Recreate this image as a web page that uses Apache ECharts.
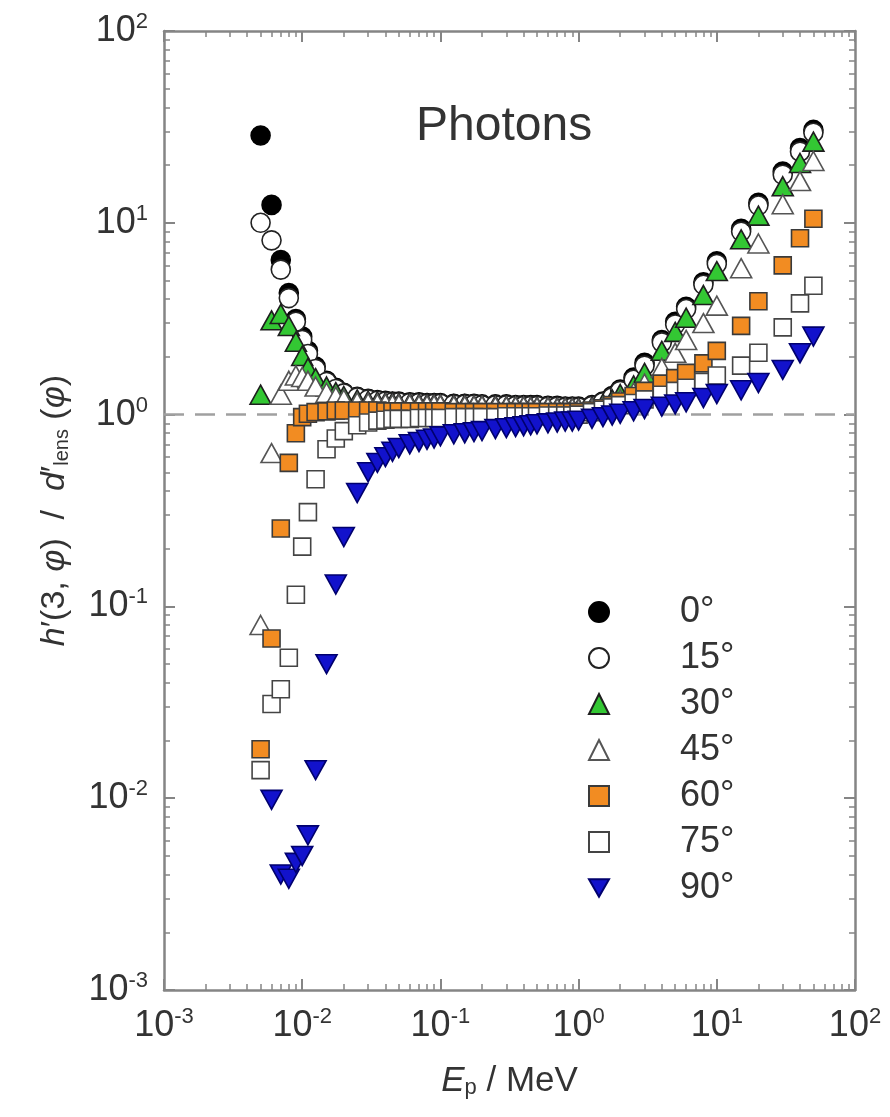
<!DOCTYPE html>
<html><head><meta charset="utf-8">
<script src="https://cdn.jsdelivr.net/npm/echarts@6/dist/echarts.min.js"></script>
<style>html,body{margin:0;padding:0;background:#fff}#c{width:890px;height:1117px}</style>
</head><body><div id="c"></div>
<script>
// ---- data ----
const energyMeV = [
  0.005,0.006,0.007,0.008,0.009,0.010,0.011,0.0125,0.015,0.0175,
  0.020,0.025,0.030,0.035,0.040,0.045,0.050,0.060,0.070,0.080,
  0.090,0.100,0.125,0.150,0.175,0.200,0.250,0.300,0.350,0.400,
  0.450,0.500,0.600,0.700,0.800,0.900,1.00,1.25,1.50,1.75,
  2.0,2.5,3.0,4.0,5.0,6.0,8.0,10,15,20,
  30,40,50];
const h0 = [
  28.5,12.4,6.4,4.3,3.15,2.55,2.15,1.78,1.5,1.38,
  1.3,1.24,1.21,1.19,1.18,1.17,1.17,1.16,1.16,1.15,
  1.15,1.15,1.14,1.14,1.14,1.13,1.13,1.13,1.12,1.12,
  1.12,1.12,1.11,1.11,1.10,1.10,1.10,1.12,1.17,1.25,
  1.35,1.56,1.86,2.45,3.05,3.65,4.9,6.3,9.3,12.7,
  18.5,24.5,30.5];
const h15 = [
  10.0,8.1,5.7,4.05,3.05,2.45,2.07,1.73,1.48,1.36,
  1.29,1.23,1.2,1.18,1.17,1.16,1.16,1.15,1.15,1.14,
  1.14,1.14,1.13,1.13,1.13,1.12,1.12,1.12,1.11,1.11,
  1.11,1.11,1.10,1.10,1.09,1.09,1.09,1.11,1.16,1.23,
  1.33,1.52,1.8,2.38,2.95,3.55,4.75,6.1,9.0,12.3,
  17.8,23.5,29.5];
const h30 = [
  1.27,3.1,3.35,2.9,2.4,2.02,1.75,1.55,1.4,1.31,
  1.25,1.2,1.18,1.17,1.16,1.16,1.15,1.15,1.14,1.14,
  1.14,1.13,1.13,1.13,1.12,1.12,1.12,1.11,1.11,1.11,
  1.10,1.10,1.10,1.09,1.09,1.09,1.08,1.10,1.14,1.2,
  1.28,1.42,1.65,2.15,2.7,3.2,4.2,5.6,8.2,10.9,
  15.5,20.5,26.5];
const h45 = [
  0.08,0.63,1.27,1.5,1.6,1.57,1.5,1.4,1.3,1.24,
  1.2,1.16,1.15,1.14,1.14,1.13,1.13,1.13,1.12,1.12,
  1.12,1.12,1.11,1.11,1.11,1.11,1.10,1.10,1.10,1.10,
  1.09,1.09,1.09,1.08,1.08,1.08,1.07,1.08,1.1,1.14,
  1.2,1.3,1.45,1.75,2.1,2.45,3.0,3.7,5.8,7.8,
  12.5,16.5,21];
const h60 = [
  0.018,0.068,0.255,0.56,0.8,0.97,1.01,1.03,1.04,1.05,
  1.05,1.05,1.05,1.05,1.04,1.04,1.04,1.04,1.04,1.04,
  1.04,1.04,1.03,1.03,1.03,1.03,1.03,1.03,1.03,1.03,
  1.03,1.03,1.03,1.03,1.03,1.03,1.03,1.05,1.08,1.12,
  1.17,1.25,1.33,1.45,1.55,1.65,1.85,2.15,2.9,3.9,
  6.0,8.3,10.5];
const h75 = [
  0.014,0.031,0.037,0.054,0.115,0.205,0.31,0.46,0.66,0.75,
  0.82,0.88,0.91,0.93,0.94,0.95,0.95,0.95,0.96,0.96,
  0.96,0.96,0.97,0.97,0.97,0.97,0.97,0.98,0.98,0.98,
  0.98,0.98,0.99,0.99,0.99,0.99,1.0,1.03,1.06,1.09,
  1.12,1.15,1.2,1.27,1.33,1.38,1.48,1.6,1.8,2.1,
  2.85,3.8,4.7];
const h90 = [
  null,0.0098,0.0040,0.0038,0.0046,0.0050,0.0064,0.014,0.050,0.13,
  0.23,0.39,0.50,0.56,0.60,0.64,0.67,0.70,0.72,0.74,
  0.75,0.77,0.79,0.80,0.81,0.82,0.84,0.85,0.86,0.87,
  0.88,0.89,0.90,0.91,0.92,0.92,0.93,0.95,0.97,0.99,
  1.01,1.04,1.07,1.10,1.13,1.16,1.22,1.28,1.34,1.46,
  1.71,2.09,2.55];
const seriesNames = ['0°','15°','30°','45°','60°','75°','90°'];
const seriesValues = [h0,h15,h30,h45,h60,h75,h90];
const xTickValues = [0.001,0.01,0.1,1,10,100];
const yTickValues = [0.001,0.01,0.1,1,10,100];
const refLineValue = 1;

// ---- styles ----
const FONT = '"Liberation Sans", Arial, Helvetica, sans-serif';
const TXT = '#333';
const AX = '#858585';
const DOWN_TRIANGLE = 'path://M0,0L22,0L11,19Z';
const styles = [
  {symbol:'circle', size:19, fill:'#000000', border:'#000000'},
  {symbol:'circle', size:19, fill:'#ffffff', border:'#222222'},
  {symbol:'triangle', size:[21,19], fill:'#33c733', border:'#1e1e1e'},
  {symbol:'triangle', size:[21,19], fill:'#ffffff', border:'#555555'},
  {symbol:'rect', size:17, fill:'#f28c22', border:'#3a3a3a'},
  {symbol:'rect', size:17, fill:'#ffffff', border:'#444444'},
  {symbol:DOWN_TRIANGLE, size:[21,19], fill:'#1212cc', border:'#00006e'}
];

const minorX = [], minorY = [];
for (let e = -3; e < 2; e++) for (let m = 2; m < 10; m++) {
  minorX.push(+(m * Math.pow(10, e)).toPrecision(3));
  minorY.push(+(m * Math.pow(10, e)).toPrecision(3));
}

const gridRect = {left:164, top:31, width:691, height:959};
const lineStyle = {color:AX, width:2.5};

const supRich = {
  b:{fontSize:36, fontFamily:FONT, color:TXT, lineHeight:40},
  s:{fontSize:22, fontFamily:FONT, color:TXT, verticalAlign:'top', lineHeight:22}
};
function expLabel(v){
  const e = Math.round(Math.log10(v));
  return '{b|10}{s|' + (e < 0 ? '-' + (-e) : e) + '}';
}

function logAxis(extra){
  return Object.assign({
    type:'log', logBase:10, min:xTickValues[0], max:xTickValues[xTickValues.length-1],
    splitLine:{show:false}, minorTick:{show:false}, minorSplitLine:{show:false},
    axisLine:{show:true, lineStyle:lineStyle},
    axisTick:{show:true, inside:true, length:11, lineStyle:{color:AX, width:2}},
    axisLabel:{show:false}
  }, extra);
}

const xAxis = [
  logAxis({gridIndex:0, position:'bottom',
    axisLabel:{show:true, formatter:expLabel, rich:supRich, margin:16},
    name:'{i|E}{sub|p}{n| / MeV}', nameLocation:'middle', nameGap:74,
    nameTextStyle:{rich:{
      i:{fontSize:35, fontStyle:'italic', fontFamily:FONT, color:TXT},
      sub:{fontSize:22, fontFamily:FONT, color:TXT, verticalAlign:'bottom'},
      n:{fontSize:35, fontFamily:FONT, color:TXT}}}}),
  logAxis({gridIndex:1, position:'top'}),
  logAxis({gridIndex:2, position:'bottom', axisLine:{show:false},
    axisTick:{show:true, inside:true, length:6, customValues:minorX, lineStyle:{color:AX, width:1.5}}}),
  logAxis({gridIndex:3, position:'top', axisLine:{show:false},
    axisTick:{show:true, inside:true, length:6, customValues:minorX, lineStyle:{color:AX, width:1.5}}})
];
const yAxis = [
  logAxis({gridIndex:0, position:'left', min:yTickValues[0], max:yTickValues[yTickValues.length-1],
    axisLabel:{show:true, formatter:expLabel, rich:supRich, margin:16},
    name:'{i|h}{n|′(3, }{i|φ}{n|)  /  }{i|d}{n|′}{sub|lens}{n| (}{i|φ}{n|)}',
    nameLocation:'middle', nameRotate:90, nameGap:92,
    nameTextStyle:{rich:{
      i:{fontSize:34, fontStyle:'italic', fontFamily:FONT, color:TXT},
      sub:{fontSize:20, fontFamily:FONT, color:TXT, verticalAlign:'bottom'},
      n:{fontSize:34, fontFamily:FONT, color:TXT}}}}),
  logAxis({gridIndex:1, position:'right', min:yTickValues[0], max:yTickValues[yTickValues.length-1]}),
  logAxis({gridIndex:2, position:'left', min:yTickValues[0], max:yTickValues[yTickValues.length-1], axisLine:{show:false},
    axisTick:{show:true, inside:true, length:6, customValues:minorY, lineStyle:{color:AX, width:1.5}}}),
  logAxis({gridIndex:3, position:'right', min:yTickValues[0], max:yTickValues[yTickValues.length-1], axisLine:{show:false},
    axisTick:{show:true, inside:true, length:6, customValues:minorY, lineStyle:{color:AX, width:1.5}}})
];

const series = seriesNames.map((name, k) => {
  const st = styles[k];
  const s = {
    name: name, type:'scatter', xAxisIndex:0, yAxisIndex:0,
    symbol: st.symbol, symbolSize: st.size, symbolKeepAspect:false,
    itemStyle:{color:st.fill, borderColor:st.border, borderWidth:1.6, opacity:1},
    emphasis:{disabled:true},
    data: energyMeV.map((e, i) => [e, seriesValues[k][i]]).filter(p => p[1] != null),
    z: 3 + k
  };
  if (k === 0) {
    s.markLine = {silent:true, symbol:['none','none'], label:{show:false},
      lineStyle:{color:'#a0a0a0', width:2.5, type:[20,11]},
      data:[{yAxis:refLineValue}], z:1};
  }
  return s;
});

const chart = echarts.init(document.getElementById('c'), null, {renderer:'canvas'});
chart.setOption({
  animation:false,
  backgroundColor:'#ffffff',
  textStyle:{fontFamily:FONT},
  title:{text:'Photons', left:416, top:103, padding:0,
    textStyle:{fontSize:48, fontWeight:'normal', color:TXT, fontFamily:FONT}},
  legend:{orient:'vertical', left:583, top:589, itemWidth:20, itemHeight:20, itemGap:10,
    selectedMode:false,
    data:seriesNames.map((n, k) => k === 6 ? {name:n, icon:DOWN_TRIANGLE} : n),
    formatter: n => '{t|' + n + '}',
    textStyle:{color:TXT, fontSize:36, fontFamily:FONT, lineHeight:36,
      rich:{t:{fontSize:36, fontFamily:FONT, color:TXT, lineHeight:36, padding:[0,0,0,66]}}}},
  grid:[0,1,2,3].map(() => Object.assign({outerBoundsMode:'none', containLabel:false}, gridRect)),
  xAxis:xAxis, yAxis:yAxis,
  series:series
});
</script></body></html>
